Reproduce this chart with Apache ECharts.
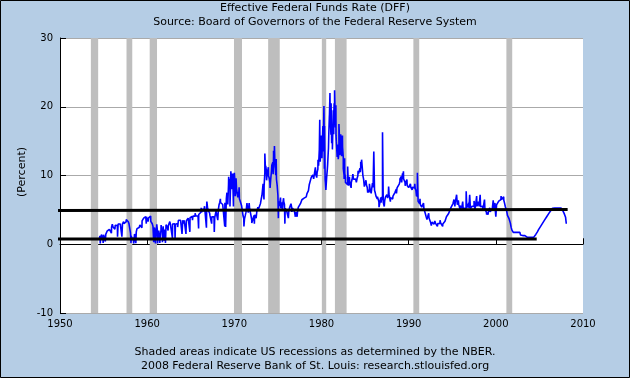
<!DOCTYPE html>
<html><head><meta charset="utf-8">
<script src="https://cdn.jsdelivr.net/npm/echarts@6/dist/echarts.min.js"></script>
<style>html,body{margin:0;padding:0;background:#B5CDE5}#c{width:630px;height:378px}</style>
</head><body><div id="c"></div>
<script>
// ---- data ----
const titleText = "Effective Federal Funds Rate (DFF)";
const subtitleText = "Source: Board of Governors of the Federal Reserve System";
const footer1 = "Shaded areas indicate US recessions as determined by the NBER.";
const footer2 = "2008 Federal Reserve Bank of St. Louis: research.stlouisfed.org";
const yName = "(Percent)";
const xTicks = [1950, 1960, 1970, 1980, 1990, 2000, 2010];
const yTicks = [-10, 0, 10, 20, 30];
const startYear = 1954.5; // July 1954, monthly values follow
const ffMonthly = [
 0.80,1.22,1.07,0.85,0.83,1.28,
 1.39,1.29,1.35,1.43,1.43,1.64,1.68,1.96,2.18,2.24,2.35,2.48,
 2.45,2.50,2.50,2.62,2.75,2.71,2.75,2.73,2.95,2.96,2.88,2.94,
 2.84,3.00,2.96,3.00,3.00,3.00,2.99,3.24,3.47,3.50,3.28,2.98,
 2.72,1.67,1.20,1.26,0.63,0.93,0.68,1.53,1.76,1.80,2.27,2.42,
 2.48,2.43,2.80,2.96,2.90,3.39,3.47,3.50,3.76,3.98,4.00,3.99,
 3.99,3.97,3.84,3.92,3.85,3.32,3.23,2.98,2.60,2.47,2.44,1.98,
 1.45,2.54,2.02,1.49,1.98,1.73,1.17,2.00,1.88,2.26,2.62,2.33,
 2.15,2.37,2.85,2.78,2.36,2.68,2.71,2.93,2.90,2.90,2.94,2.93,
 2.92,3.00,2.98,2.90,3.00,2.99,3.02,3.49,3.48,3.50,3.48,3.38,
 3.48,3.48,3.43,3.47,3.50,3.50,3.42,3.50,3.45,3.36,3.52,3.85,
 3.90,3.98,4.04,4.09,4.10,4.04,4.09,4.12,4.01,4.08,4.10,4.32,
 4.42,4.60,4.65,4.67,4.90,5.17,5.30,5.53,5.40,5.53,5.76,5.40,
 4.94,5.00,4.53,4.05,3.94,3.98,3.79,3.90,3.99,3.88,4.13,4.51,
 4.61,4.71,5.05,5.76,6.12,6.07,6.02,6.03,5.78,5.91,5.82,6.02,
 6.30,6.61,6.79,7.41,8.67,8.90,8.61,9.19,9.15,9.00,8.85,8.97,
 8.98,8.98,7.76,8.10,7.95,7.61,7.21,6.61,6.29,6.20,5.60,4.90,
 4.14,3.72,3.71,4.16,4.63,4.91,5.31,5.56,5.55,5.20,4.91,4.14,
 3.50,3.29,3.83,4.17,4.27,4.46,4.55,4.80,4.87,5.04,5.06,5.33,
 5.94,6.58,7.09,7.12,7.84,8.49,10.40,10.50,10.78,10.01,10.03,9.95,
 9.65,8.97,9.35,10.51,11.31,11.93,12.92,12.01,11.34,10.06,9.45,8.53,
 7.13,6.24,5.54,5.49,5.22,5.55,6.10,6.14,6.24,5.82,5.22,5.20,
 4.87,4.77,4.84,4.82,5.29,5.48,5.31,5.29,5.25,5.02,4.95,4.65,
 4.61,4.68,4.69,4.73,5.35,5.39,5.42,5.90,6.14,6.47,6.51,6.56,
 6.70,6.78,6.79,6.89,7.36,7.60,7.81,8.04,8.45,8.96,9.76,10.03,
 10.07,10.06,10.09,10.01,10.24,10.29,10.47,10.94,11.43,13.77,13.18,13.78,
 13.82,14.13,17.19,17.61,10.98,9.47,9.03,9.61,10.87,12.81,15.85,18.90,
 19.08,15.93,14.70,15.72,18.52,19.10,19.04,17.82,15.87,15.08,13.31,12.37,
 13.22,14.78,14.68,14.94,14.45,14.15,12.59,10.12,10.31,9.71,9.20,8.95,
 8.68,8.51,8.77,8.80,8.63,8.98,9.37,9.56,9.45,9.48,9.34,9.47,
 9.56,9.59,9.91,10.29,10.32,11.06,11.23,11.64,11.30,9.99,9.43,8.38,
 8.35,8.50,8.58,8.27,7.97,7.53,7.88,7.90,7.92,7.99,8.05,8.27,
 8.14,7.86,7.48,6.99,6.85,6.92,6.56,6.17,5.89,5.85,6.04,6.91,
 6.43,6.10,6.13,6.37,6.85,6.73,6.58,6.73,7.22,7.29,6.69,6.77,
 6.83,6.58,6.58,6.87,7.09,7.51,7.75,8.01,8.19,8.30,8.35,8.76,
 9.12,9.36,9.85,9.84,9.81,9.53,9.24,8.99,9.02,8.84,8.55,8.45,
 8.23,8.24,8.28,8.26,8.18,8.29,8.15,8.13,8.20,8.11,7.81,7.31,
 6.91,6.25,6.12,5.91,5.78,5.90,5.82,5.66,5.45,5.21,4.81,4.43,
 4.03,4.06,3.98,3.73,3.82,3.76,3.25,3.30,3.22,3.10,3.09,2.92,
 3.02,3.03,3.07,2.96,3.00,3.04,3.06,3.03,3.09,2.99,3.02,2.96,
 3.05,3.25,3.34,3.56,4.01,4.25,4.26,4.47,4.73,4.76,5.29,5.45,
 5.53,5.92,5.98,6.05,6.01,6.00,5.85,5.74,5.80,5.76,5.80,5.60,
 5.56,5.22,5.31,5.22,5.24,5.27,5.40,5.22,5.30,5.24,5.31,5.29,
 5.25,5.19,5.39,5.51,5.50,5.56,5.52,5.54,5.54,5.50,5.52,5.50,
 5.56,5.51,5.49,5.45,5.49,5.56,5.54,5.55,5.51,5.07,4.83,4.68,
 4.63,4.76,4.81,4.74,4.74,4.76,4.99,5.07,5.22,5.20,5.42,5.30,
 5.45,5.73,5.85,6.02,6.27,6.53,6.54,6.50,6.52,6.51,6.51,6.40,
 5.98,5.49,5.31,4.80,4.21,3.97,3.77,3.65,3.07,2.49,2.09,1.82,
 1.73,1.74,1.73,1.75,1.75,1.75,1.73,1.74,1.75,1.75,1.34,1.24,
 1.24,1.26,1.25,1.26,1.26,1.22,1.01,1.03,1.01,1.01,1.00,0.98,
 1.00,1.01,1.00,1.00,1.00,1.03,1.26,1.43,1.61,1.76,1.93,2.16,
 2.28,2.50,2.63,2.79,3.00,3.04,3.26,3.50,3.62,3.78,4.00,4.16,
 4.29,4.49,4.59,4.79,4.94,4.99,5.24,5.25,5.25,5.25,5.25,5.24,
 5.25,5.26,5.26,5.25,5.25,5.25,5.26,5.02,4.94,4.76,4.49,4.24,
 3.94,2.98
];
// daily extremes: [year, percent]
const dailySpikes = [
 [1954.62,0.1],[1954.78,1.4],[1954.95,0.2],[1955.05,1.6],[1955.2,0.4],[1955.4,1.9],
 [1955.9,1.6],[1956.0,2.9],[1956.3,2.2],[1956.6,1.1],[1957.1,1.1],[1957.3,3.3],[1957.6,3.6],
 [1958.15,0.2],[1958.45,0.1],[1958.55,1.5],[1958.7,0.15],
 [1959.4,2.4],[1959.6,3.8],[1959.9,3.0],[1960.1,3.3],[1960.4,4.1],
 [1960.75,0.3],[1960.95,0.1],[1961.1,2.9],[1961.2,0.1],[1961.45,0.2],[1961.6,2.8],[1961.75,0.3],[1961.95,0.5],[1962.1,0.2],
 [1962.4,2.0],[1962.6,3.3],[1962.9,0.9],[1963.2,0.9],[1963.5,2.5],[1963.8,3.7],[1964.0,1.5],[1964.2,3.0],[1964.45,1.5],[1964.7,3.8],[1964.9,1.8],
 [1965.2,3.5],[1965.5,4.5],[1965.9,2.3],[1966.2,5.3],[1966.5,4.8],[1966.8,2.4],[1966.85,6.2],[1967.2,4.2],[1967.4,3.0],[1967.7,1.8],[1967.9,4.8],[1968.1,3.5],
 [1968.4,6.6],[1968.9,2.6],[1969.0,2.5],
 [1969.15,7.5],[1969.25,5.8],[1969.35,9.8],[1969.45,9.5],[1969.5,5.5],[1969.6,10.6],[1969.7,8.0],[1969.8,10.3],[1969.9,5.5],[1970.0,10.4],
 [1970.1,7.0],[1970.2,9.6],[1970.4,6.8],[1970.55,8.3],
 [1971.1,2.6],[1971.45,6.0],[1971.6,4.6],[1971.7,6.0],[1972.0,3.1],[1972.3,3.0],[1972.5,3.8],[1972.7,5.4],
 [1973.3,8.8],[1973.4,6.5],[1973.5,13.2],[1973.6,11.4],[1973.7,9.3],[1973.9,11.2],
 [1974.1,8.2],[1974.3,11.5],[1974.45,10.2],[1974.5,13.6],[1974.6,14.3],[1974.7,11.0],[1974.8,12.4],
 [1975.05,3.8],[1975.3,6.8],[1975.5,4.9],[1975.65,6.7],[1975.8,3.0],[1976.2,3.8],[1976.5,5.9],[1976.6,4.7],[1977.0,4.0],[1977.2,4.0],
 [1978.6,8.7],[1979.1,9.5],[1979.3,11.2],[1979.45,9.7],[1979.6,12.3],[1979.7,11.4],
 [1979.8,18.1],[1979.85,12.0],[1979.95,15.8],[1980.05,12.5],[1980.15,16.8],[1980.2,13.5],[1980.28,20.1],[1980.35,17.2],[1980.45,9.0],[1980.5,7.9],
 [1980.7,11.5],[1980.8,14.0],[1980.9,18.5],[1980.97,22.0],[1981.05,17.0],[1981.1,20.5],[1981.15,15.7],[1981.25,13.8],[1981.35,19.5],[1981.4,16.0],[1981.45,20.5],[1981.5,22.4],
 [1981.6,17.0],[1981.65,20.2],[1981.7,15.0],[1981.8,12.7],[1981.9,14.5],[1982.0,17.5],[1982.1,13.0],[1982.2,16.0],[1982.3,12.8],[1982.4,15.8],[1982.5,11.0],[1982.6,9.5],[1982.65,12.5],[1982.75,9.0],
 [1983.0,11.3],[1983.2,9.8],[1983.4,8.2],[1983.6,10.2],[1984.0,9.0],[1984.2,10.7],[1984.45,10.5],[1984.5,12.0],[1984.6,12.3],[1984.7,10.8],
 [1985.1,9.3],[1985.3,7.5],[1985.5,8.8],[1985.7,7.4],[1985.85,8.9],[1986.0,13.5],[1986.2,7.3],[1986.4,6.6],[1986.6,5.4],[1986.8,6.8],
 [1987.0,16.3],[1987.2,5.5],[1987.5,7.2],[1987.7,8.4],[1987.9,6.2],[1988.2,7.0],[1988.6,7.4],
 [1989.0,9.5],[1989.2,9.0],[1989.3,10.3],[1989.4,10.6],[1989.6,8.5],[1989.8,9.4],[1990.2,8.8],[1990.4,7.9],[1990.7,8.8],[1990.9,7.0],[1991.0,10.4],
 [1991.3,6.6],[1991.5,5.4],[1991.7,6.0],[1992.1,3.6],[1992.3,4.5],[1992.6,2.7],[1993.0,3.4],[1993.3,2.6],[1993.6,3.5],[1993.9,2.6],
 [1995.2,6.5],[1995.3,5.5],[1995.5,7.2],[1995.7,6.4],[1995.9,5.1],[1996.2,6.2],[1996.3,4.9],[1996.6,7.7],[1996.9,6.0],[1997.0,7.2],[1997.2,5.0],
 [1997.5,6.3],[1997.6,5.1],[1997.8,7.0],[1998.0,6.2],[1998.2,7.2],[1998.5,5.1],[1998.7,6.5],[1998.95,4.3],[1999.1,4.3],[1999.3,5.3],[1999.5,4.5],
 [1999.7,6.4],[1999.9,6.0],[2000.0,4.0],[2000.3,5.7],[2000.6,7.0],[2000.8,6.3],[2000.9,6.9]
];
// NBER recessions [start, end] in years
const recessions = [
 [1953.54,1954.38],[1957.63,1958.29],[1960.29,1961.13],[1969.96,1970.88],
 [1973.88,1975.21],[1980.04,1980.54],[1981.54,1982.88],[1990.54,1991.21],[2001.21,2001.88]
];
// hand-drawn reference lines on the original: [[x0,y0],[x1,y1]]
const refLineUpper = [[1943.12,4.88],[2008.24,5.05]];
const refLineLower = [[1945.64,0.78],[2004.69,0.78]];

// ---- build ----
const series = [];
ffMonthly.forEach((v,i)=>series.push([startYear + i/12, v]));
dailySpikes.forEach(p=>series.push(p));
series.sort((a,b)=>a[0]-b[0]);

const chart = echarts.init(document.getElementById('c'), null, {renderer:'canvas'});
const FONT = "DejaVu Sans";
chart.setOption({
  backgroundColor:'#B5CDE5',
  animation:false,
  grid:{left:60, top:38, right:47, bottom:65, show:true, backgroundColor:'#fff', borderWidth:0},
  xAxis:{type:'value', min:1950, max:2010, interval:10,
    axisLine:{lineStyle:{color:'#000',width:1}},
    axisTick:{inside:true,length:6,lineStyle:{color:'#000'}},
    axisLabel:{color:'#000',fontFamily:FONT,fontSize:10,margin:6,
      formatter:v=>xTicks.includes(v)?String(v):''},
    splitLine:{show:false}},
  yAxis:{type:'value', min:-10, max:30, interval:10,
    axisLine:{show:true,lineStyle:{color:'#000',width:1}},
    axisTick:{show:true,inside:true,length:6,lineStyle:{color:'#000'}},
    axisLabel:{color:'#000',fontFamily:FONT,fontSize:10,margin:7,
      formatter:v=>yTicks.includes(v)?String(v):''},
    splitLine:{show:true,lineStyle:{color:'#AAAAAA',width:1}}},
  graphic:[
    {type:'rect',silent:true,z:-10,shape:{x:0.5,y:0.5,width:629,height:377},style:{fill:null,stroke:'#000',lineWidth:1}},
    {type:'text',left:'center',top:3,style:{text:titleText,font:"11px '"+FONT+"'",fill:'#000'}},
    {type:'text',left:'center',top:17,style:{text:subtitleText,font:"11px '"+FONT+"'",fill:'#000'}},
    {type:'text',left:'center',top:347,style:{text:footer1,font:"11px '"+FONT+"'",fill:'#000'}},
    {type:'text',left:'center',top:361,style:{text:footer2,font:"11px '"+FONT+"'",fill:'#000'}},
    {type:'text',x:22,y:172,rotation:Math.PI/2,style:{text:yName,font:"11px '"+FONT+"'",fill:'#000',align:'center',verticalAlign:'middle'}}
  ],
  series:[
    {type:'line',name:'DFF',data:series,showSymbol:false,symbol:'none',
      lineStyle:{color:'#0000FF',width:1.6},z:3,
      markArea:{silent:true,itemStyle:{color:'#BEBEBE'},
        data:recessions.map(r=>[{xAxis:r[0]},{xAxis:r[1]}])}},
    {type:'line',name:'upper',data:refLineUpper,clip:false,showSymbol:false,symbol:'none',
      lineStyle:{color:'#000',width:3},z:5},
    {type:'line',name:'lower',data:refLineLower,clip:false,showSymbol:false,symbol:'none',
      lineStyle:{color:'#000',width:3},z:5}
  ]
});
</script></body></html>
